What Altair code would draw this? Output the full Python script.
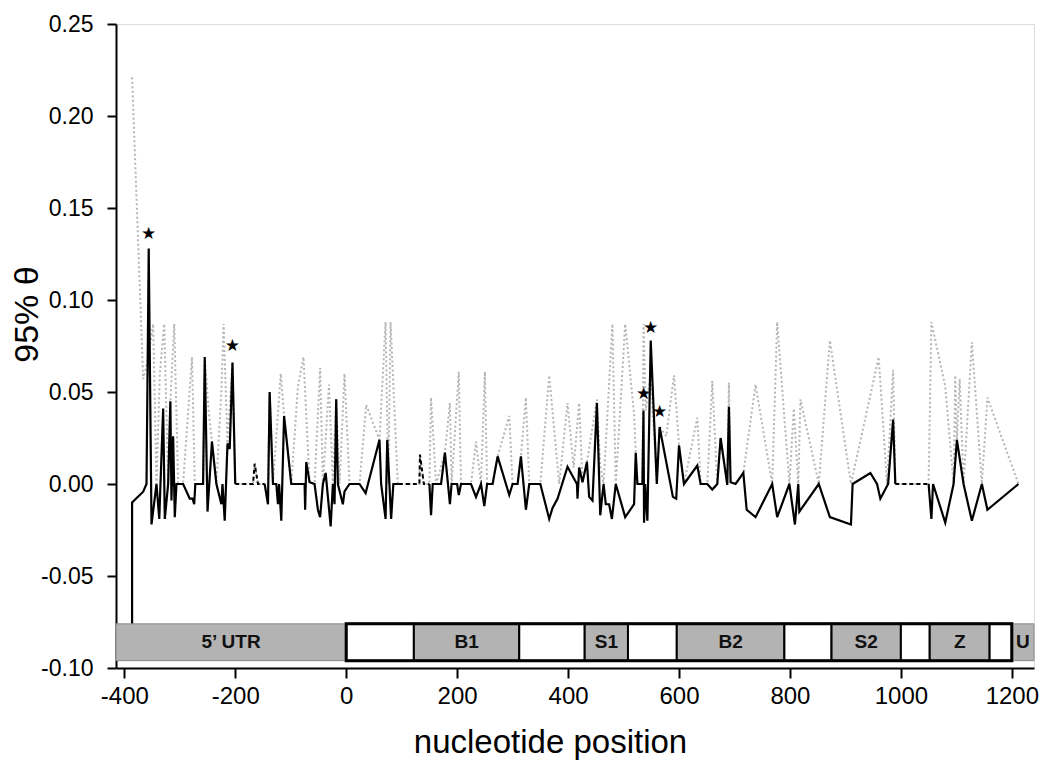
import altair as alt
import pandas as pd

# ---- solid black line (theta estimate), split into segments ----
solid_x_1 = [-386, -386, -366, -360, -356, -351, -342, -337, -330, -327, -321, -317, -315, -312, -309, -306, -294,
             -282, -277, -274, -272, -258, -255, -250, -242, -234, -225, -223, -219, -214, -210, -205, -200]
solid_y_1 = [-0.08, -0.0101, -0.0042, 0.0, 0.128, -0.022, 0.0, -0.019, 0.041, -0.019, 0.0, 0.045, -0.009, 0.026,
             -0.018, 0.0, 0.0, -0.008, -0.008, -0.011, 0.0, 0.0, 0.069, -0.015, 0.023, 0.0, -0.011, 0.0, -0.020,
             0.022, 0.019, 0.066, 0.0]
solid_x_2 = [-147, -141, -138, -132, -126, -123, -121, -117, -112, -99, -90, -75, -74, -72, -66, -57, -51, -47, -42,
             -37, -33, -28, -24, -21, -18, -15, -6, -3, 6, 24, 35, 60, 63, 71, 74, 81, 85, 95]
solid_y_2 = [0.0, -0.011, 0.050, 0.0, 0.0, -0.011, 0.0, -0.020, 0.037, 0.0, 0.0, 0.0, -0.014, 0.012, 0.001, 0.0,
             -0.014, -0.018, 0.0, 0.006, -0.007, -0.023, 0.0, -0.011, 0.046, 0.0, -0.011, -0.004, 0.0, 0.0, -0.005,
             0.024, 0.0, -0.019, 0.024, -0.019, 0.0, 0.0]
solid_x_3 = [150, 153, 156, 171, 178, 187, 190, 200, 203, 207, 225, 234, 243, 249, 254, 264, 273, 294, 300, 309, 315,
             324, 330, 350, 366, 372, 381, 399, 416, 417, 420, 426, 434, 438, 444, 452, 458, 464, 468, 474, 479, 486,
             503, 519, 522, 525, 534, 536, 537, 539, 543, 549, 560, 565, 589, 595, 600, 609, 633, 639, 651, 660, 669,
             675, 687, 690, 693, 702, 716, 722, 738, 768, 777, 799, 809, 815, 817, 852, 872, 910, 913, 945, 957, 963,
             977, 986, 990]
solid_y_3 = [0.0, -0.017, 0.0, 0.0, 0.017, -0.011, 0.0, 0.0, -0.006, 0.0, 0.0, -0.007, 0.0, -0.012, 0.0, 0.0, 0.015,
             -0.006, 0.0, 0.0, 0.015, -0.014, 0.0, 0.0, -0.019, -0.013, -0.008, 0.0094, 0.0, -0.008, 0.009, 0.001,
             0.012, -0.007, -0.009, 0.044, -0.017, 0.0, -0.011, -0.011, -0.019, 0.0, -0.018, -0.011, 0.017, 0.0, 0.0,
             0.040, -0.021, 0.0, -0.020, 0.078, 0.0, 0.031, -0.007, -0.008, 0.021, 0.0, 0.010, 0.0, 0.0, -0.003, 0.0,
             0.025, -0.0005, 0.042, 0.001, 0.0, 0.006, -0.014, -0.018, 0.0, -0.018, 0.0, -0.022, 0.0, -0.015, 0.0,
             -0.018, -0.022, 0.0, 0.006, 0.0, -0.008, 0.0, 0.035, 0.0]
solid_x_4 = [1050, 1055, 1058, 1080, 1095, 1101, 1113, 1128, 1146, 1156, 1212]
solid_y_4 = [0.0, -0.019, 0.0, -0.021, 0.0, 0.024, 0.0, -0.020, 0.0, -0.014, 0.0]

# ---- black dashed line where it shows on its own ----
dash_x_1 = [-200, -168, -165, -159, -147]
dash_y_1 = [0.0, 0.0, 0.011, 0.0, 0.0]
dash_x_2 = [95, 132, 133, 140, 150]
dash_y_2 = [0.0, 0.0, 0.016, 0.0, 0.0]
dash_x_3 = [990, 1035, 1050]
dash_y_3 = [0.0, 0.0, 0.0]

# ---- grey dotted line (upper 95% bound) ----
upper_x = [-386, -366, -358, -348, -342, -336, -328, -321, -317, -310, -303, -294, -278, -273, -258, -255, -248, -234,
           -225, -221, -214, -205, -200, -168, -165, -159, -141, -138, -132, -118, -112, -99, -87, -77, -66, -57, -47,
           -42, -31, -24, -18, -12, -3, 6, 24, 36, 60, 71, 76, 80, 93, 132, 133, 140, 150, 153, 162, 178, 187, 190,
           203, 207, 225, 234, 243, 250, 254, 264, 273, 294, 300, 309, 315, 324, 330, 350, 366, 384, 399, 410, 420,
           426, 434, 452, 458, 464, 480, 486, 503, 519, 522, 525, 534, 536, 540, 549, 560, 565, 577, 591, 600, 609,
           633, 639, 651, 660, 669, 675, 687, 690, 693, 702, 716, 738, 768, 777, 799, 807, 815, 819, 852, 872, 910,
           960, 975, 986, 990, 1050, 1055, 1080, 1095, 1098, 1101, 1106, 1113, 1128, 1146, 1156, 1212]
upper_y = [0.221, 0.057, 0.067, 0.087, 0.0, 0.060, 0.087, 0.0, 0.045, 0.087, 0.0, 0.0, 0.069, 0.0, 0.0, 0.069, 0.040,
           0.0, 0.051, 0.087, 0.022, 0.066, 0.0, 0.0, 0.011, 0.0, 0.0, 0.050, 0.0, 0.060, 0.037, 0.0, 0.053, 0.069,
           0.001, 0.0, 0.063, 0.0, 0.054, 0.0, 0.046, 0.0, 0.060, 0.0, 0.0, 0.043, 0.024, 0.088, 0.0, 0.088, 0.0, 0.0,
           0.016, 0.0, 0.0, 0.047, 0.0, 0.017, 0.044, 0.0, 0.061, 0.0, 0.0, 0.023, 0.0, 0.061, 0.0, 0.0, 0.015, 0.037,
           0.0, 0.0, 0.015, 0.047, 0.0, 0.0, 0.059, 0.0, 0.044, 0.009, 0.044, 0.001, 0.012, 0.046, 0.010, 0.0, 0.087,
           0.0, 0.087, 0.038, 0.017, 0.0, 0.0, 0.087, 0.040, 0.060, 0.0, 0.031, 0.026, 0.059, 0.021, 0.0, 0.036, 0.0,
           0.0, 0.056, 0.0, 0.025, 0.0, 0.055, 0.001, 0.0, 0.006, 0.054, 0.0, 0.088, 0.0, 0.041, 0.0, 0.046, 0.0,
           0.078, 0.0, 0.069, 0.0, 0.062, 0.0, 0.0, 0.088, 0.053, 0.0, 0.059, 0.024, 0.057, 0.0, 0.077, 0.0, 0.047,
           0.0]

# ---- significance stars ----
star_x = [-356, -205, 549, 536, 565]
star_y = [0.136, 0.075, 0.085, 0.049, 0.039]

# ---- gene structure ----
gene_labels = ["5\u2019 UTR", "", "B1", "", "S1", "", "B2", "", "S2", "", "Z", "", "U"]
gene_starts = [-415, 0, 122, 312, 430, 508, 596, 790, 875, 1000, 1052, 1160, 1200]
gene_ends = [0, 122, 312, 430, 508, 596, 790, 875, 1000, 1052, 1160, 1200, 1240]
coding_start, coding_end = 0, 1200
bar_top, bar_bottom, bar_mid = -0.076, -0.096, -0.086

x_ticks = [-400, -200, 0, 200, 400, 600, 800, 1000, 1200]
y_ticks = [-0.10, -0.05, 0.0, 0.05, 0.10, 0.15, 0.20, 0.25]


def frame(xs_list, ys_list):
    rows = []
    for seg, (xs, ys) in enumerate(zip(xs_list, ys_list)):
        for i, (a, b) in enumerate(zip(xs, ys)):
            rows.append({"x": a, "y": b, "seg": seg, "ord": i})
    return pd.DataFrame(rows)


solid_df = frame([solid_x_1, solid_x_2, solid_x_3, solid_x_4], [solid_y_1, solid_y_2, solid_y_3, solid_y_4])
dash_df = frame([dash_x_1, dash_x_2, dash_x_3], [dash_y_1, dash_y_2, dash_y_3])
upper_df = frame([upper_x], [upper_y])
star_df = pd.DataFrame({"x": star_x, "y": star_y, "t": ["\u2605"] * len(star_x)})
gene_df = pd.DataFrame({"label": gene_labels, "start": gene_starts, "end": gene_ends})
gene_df["mid"] = (gene_df["start"] + gene_df["end"]) / 2
outline_df = pd.DataFrame({"s": [coding_start], "e": [coding_end]})

FONT = "Liberation Sans"
xscale = alt.Scale(domain=[-415, 1240], nice=False, zero=False)
yscale = alt.Scale(domain=[-0.10, 0.25], nice=False, zero=False)

xaxis = alt.Axis(values=x_ticks, title="nucleotide position", grid=False,
                 labelExpr="replace(format(datum.value, 'd'), '\u2212', '-')",
                 labelFontSize=24, labelColor="black", labelFont=FONT, labelPadding=6,
                 titleFontSize=33, titleFont=FONT, titleFontWeight="normal", titleColor="black",
                 titleX=434, titleY=58, titleBaseline="top",
                 domainColor="black", domainWidth=2, tickColor="black", tickWidth=2, tickSize=10)
yaxis = alt.Axis(values=y_ticks, title="95% \u03b8", grid=False,
                 labelExpr="replace(format(datum.value, '.2f'), '\u2212', '-')",
                 labelFontSize=23, labelColor="black", labelFont=FONT, labelPadding=14,
                 titleFontSize=34, titleFont=FONT, titleFontWeight="normal", titleColor="black",
                 titleX=-72, titleY=290, titleAngle=270, titleBaseline="bottom", titleAlign="center",
                 domainColor="black", domainWidth=2, tickColor="black", tickWidth=2, tickSize=9)

upper = alt.Chart(upper_df).mark_line(color="#b5b5b5", strokeWidth=2, strokeDash=[2, 2.5]).encode(
    x=alt.X("x:Q", scale=xscale, axis=xaxis),
    y=alt.Y("y:Q", scale=yscale, axis=yaxis),
    order="ord:Q",
)
dashed = alt.Chart(dash_df).mark_line(color="black", strokeWidth=2, strokeDash=[4, 3]).encode(
    x="x:Q", y="y:Q", detail="seg:N", order="ord:Q")
solid = alt.Chart(solid_df).mark_line(color="black", strokeWidth=2.2).encode(
    x="x:Q", y="y:Q", detail="seg:N", order="ord:Q")

boxes = alt.Chart(gene_df).mark_rect().encode(
    x="start:Q", x2="end:Q",
    y=alt.datum(bar_top), y2=alt.datum(bar_bottom),
    fill=alt.condition(alt.datum.label != "", alt.value("#b3b3b3"), alt.value("white")),
    stroke=alt.condition((alt.datum.start >= coding_start) & (alt.datum.end <= coding_end),
                         alt.value("black"), alt.value("#8a8a8a")),
    strokeWidth=alt.condition((alt.datum.start >= coding_start) & (alt.datum.end <= coding_end),
                              alt.value(2), alt.value(1)),
)
outline = alt.Chart(outline_df).mark_rect(fillOpacity=0, stroke="black", strokeWidth=3).encode(
    x="s:Q", x2="e:Q", y=alt.datum(bar_top), y2=alt.datum(bar_bottom))
labels = alt.Chart(gene_df).mark_text(font=FONT, fontSize=19, fontWeight="bold", color="#111111").encode(
    x="mid:Q", y=alt.datum(bar_mid), text="label:N")
stars = alt.Chart(star_df).mark_text(font="DejaVu Sans", fontSize=17, color="black").encode(
    x="x:Q", y="y:Q", text="t:N")

chart = alt.layer(upper, dashed, solid, boxes, outline, labels, stars).properties(
    width=918, height=644,
    autosize=alt.AutoSizeParams(type="none"),
    padding={"left": 108, "top": 16, "right": 8, "bottom": 92},
).configure_view(stroke=None).configure(background="white")

chart.save("out.html", embed_options={"renderer": "svg", "actions": False})
